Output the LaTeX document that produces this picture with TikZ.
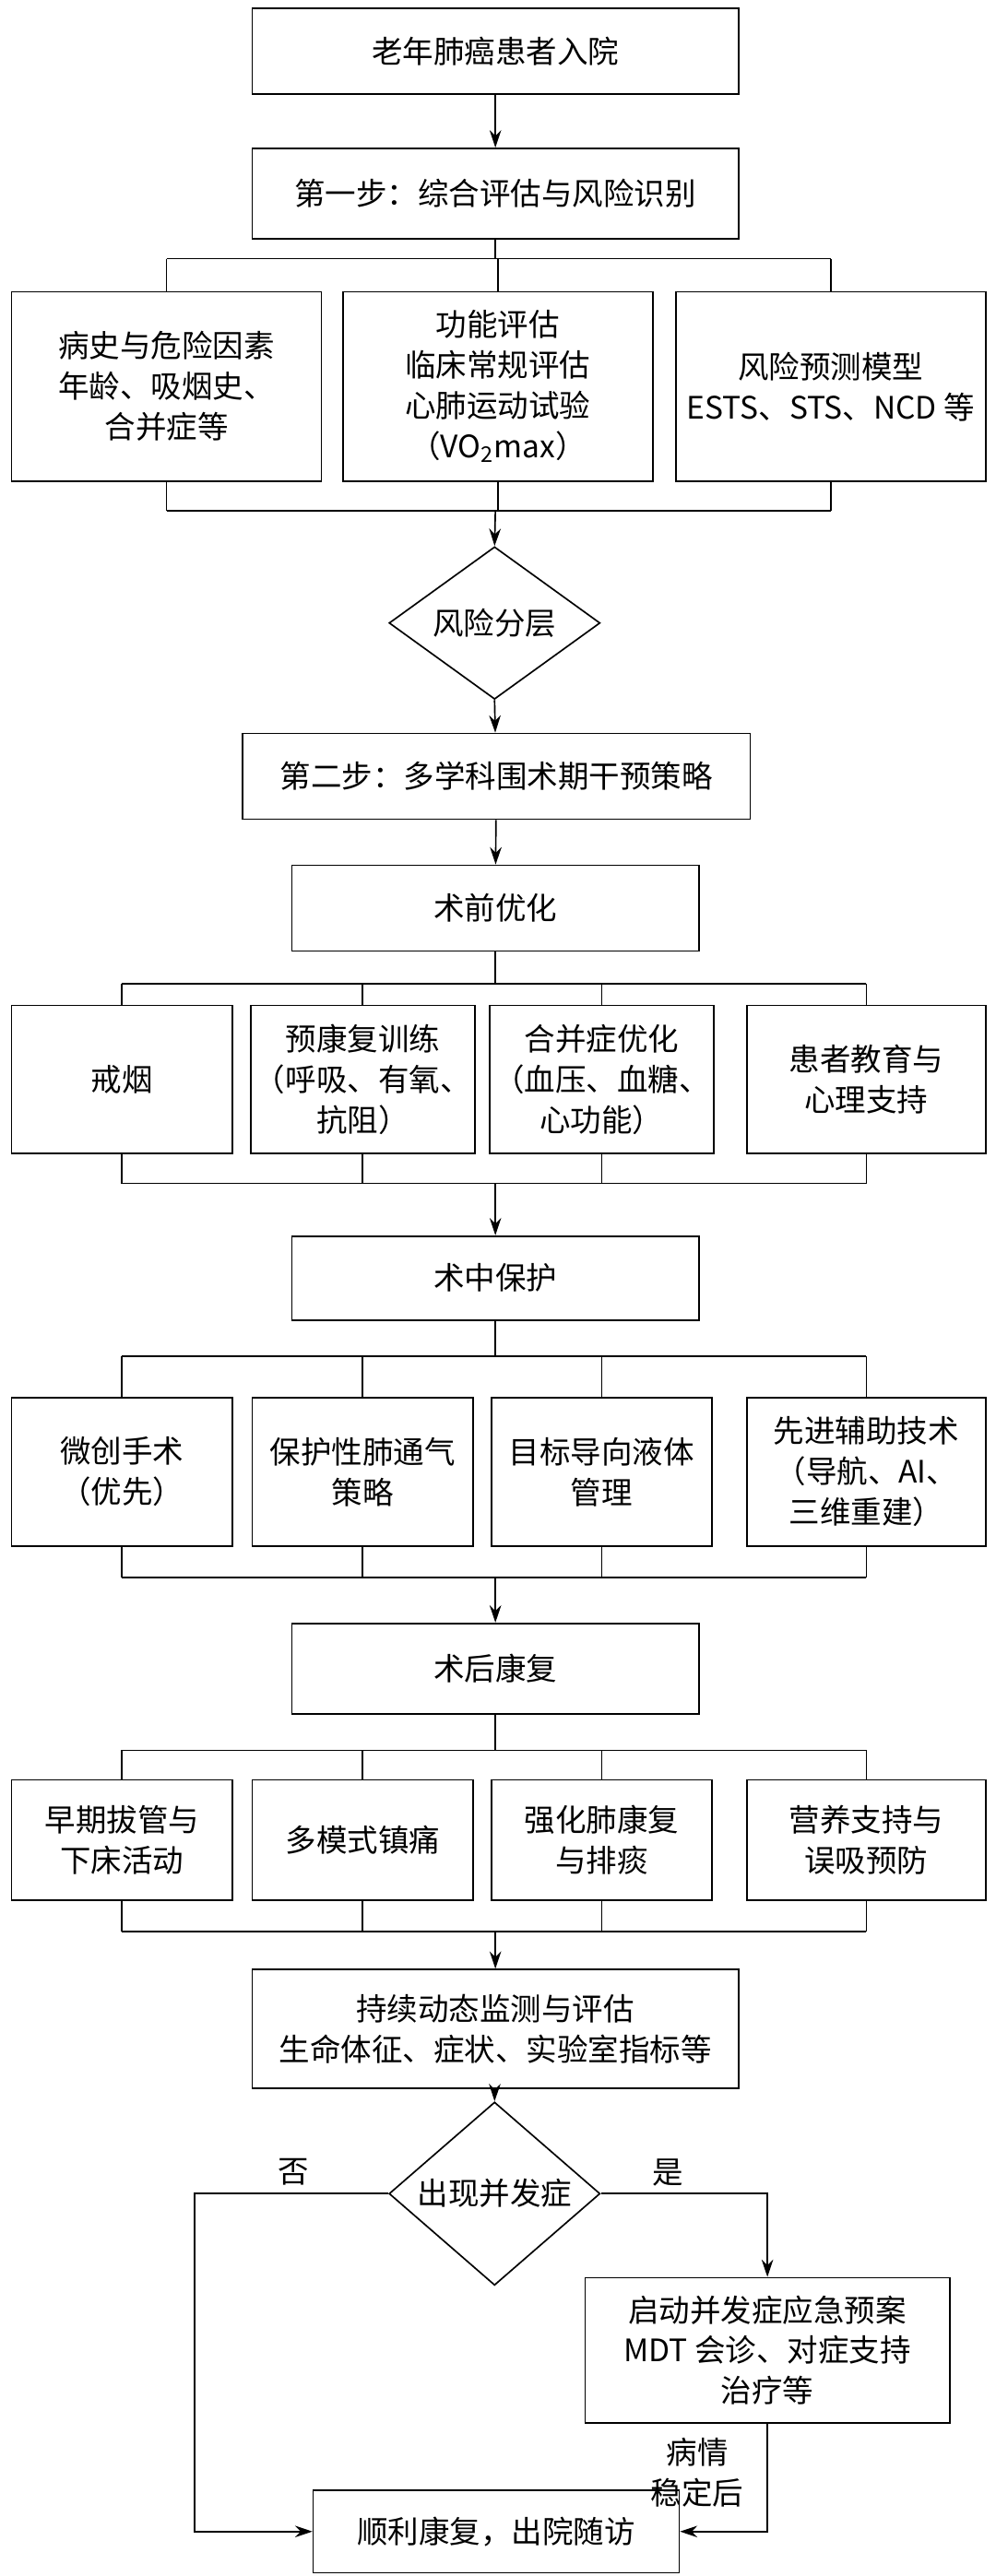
\documentclass[tikz,border=0pt]{standalone}
\usepackage{fontspec}
\setmainfont{Noto Sans CJK SC}
\usetikzlibrary{calc,arrows.meta,shapes.geometric}
\def\pu{0.03cm}
\begin{document}
\begin{tikzpicture}[x=0.03cm,y=-0.03cm,
    font=\fontsize{16}{21}\selectfont,
    line width=0.8pt,
    box/.style={draw,align=center,inner sep=2pt},
    judge/.style={draw,diamond,inner sep=0pt,minimum width=128*\pu,minimum height=68*\pu},
    arr/.style={-{Stealth[length=9pt,width=6pt]}}]
    \useasboundingbox (0,0) rectangle (604,1563);

    % 入院・第一步
    \node[box,minimum width=295*\pu,minimum height=52*\pu] (start) at (300.5,31) {老年肺癌患者入院};
    \node[box,minimum width=295*\pu,minimum height=55*\pu] (step1) at (300.5,117.5) {第一步：综合评估与风险识别};
    \draw[arr] (start) -- (step1);

    % 评估 3 项
    \node[box,minimum width=188*\pu,minimum height=115*\pu] (hist) at (101,234.5) {病史与危险因素\\年龄、吸烟史、\\合并症等};
    \node[box,minimum width=188*\pu,minimum height=115*\pu] (func) at (302,234.5) {功能评估\\临床常规评估\\心肺运动试验\\（VO\textsubscript{2}max）};
    \node[box,minimum width=188*\pu,minimum height=115*\pu] (model) at (504,234.5) {风险预测模型\\ESTS、STS、NCD 等};
    \coordinate (s1) at (300.5,157);
    \coordinate (s2) at (300.5,310);
    \draw (step1) -- (s1);
    \draw (hist.north |- s1) -- (model.north |- s1);
    \foreach \n in {hist,func,model} {
        \draw (\n.north |- s1) -- (\n.north);
        \draw (\n.south) -- (\n.south |- s2);
    }
    \draw (hist.south |- s2) -- (model.south |- s2);

    % 风险分层
    \node[judge] (risk) at (300,378) {风险分层};
    \draw[arr] (s2) -- (risk.north);
    \node[box,minimum width=308*\pu,minimum height=52*\pu] (step2) at (301,471) {第二步：多学科围术期干预策略};
    \draw[arr] (risk.south) -- (step2);

    % 术前优化
    \node[box,minimum width=247*\pu,minimum height=52*\pu] (pre) at (300.5,551) {术前优化};
    \draw[arr] (step2) -- (pre);
    \node[box,minimum width=134*\pu,minimum height=90*\pu] (pa) at (74,655) {戒烟};
    \node[box,minimum width=134*\pu,minimum height=90*\pu] (pb) at (220,655) {预康复训练\\（呼吸、有氧、\\抗阻）};
    \node[box,minimum width=134*\pu,minimum height=90*\pu] (pc) at (365,655) {合并症优化\\（血压、血糖、\\心功能）};
    \node[box,minimum width=145*\pu,minimum height=90*\pu] (pd) at (525.5,655) {患者教育与\\心理支持};
    \coordinate (p1) at (300.5,597);
    \coordinate (p2) at (300.5,718);
    \draw (pre) -- (p1);
    \draw (pa.north |- p1) -- (pd.north |- p1);
    \draw (pa.south |- p2) -- (pd.south |- p2);
    \foreach \n in {pa,pb,pc,pd} {
        \draw (\n.north |- p1) -- (\n.north);
        \draw (\n.south) -- (\n.south |- p2);
    }

    % 术中保护
    \node[box,minimum width=247*\pu,minimum height=51*\pu] (intra) at (300.5,775.5) {术中保护};
    \draw[arr] (p2) -- (intra);
    \node[box,minimum width=134*\pu,minimum height=90*\pu] (ia) at (74,893) {微创手术\\（优先）};
    \node[box,minimum width=134*\pu,minimum height=90*\pu] (ib) at (220,893) {保护性肺通气\\策略};
    \node[box,minimum width=134*\pu,minimum height=90*\pu] (ic) at (365,893) {目标导向液体\\管理};
    \node[box,minimum width=145*\pu,minimum height=90*\pu] (id) at (525.5,893) {先进辅助技术\\（导航、AI、\\三维重建）};
    \coordinate (i1) at (300.5,823);
    \coordinate (i2) at (300.5,957);
    \draw (intra) -- (i1);
    \draw (ia.north |- i1) -- (id.north |- i1);
    \draw (ia.south |- i2) -- (id.south |- i2);
    \foreach \n in {ia,ib,ic,id} {
        \draw (\n.north |- i1) -- (\n.north);
        \draw (\n.south) -- (\n.south |- i2);
    }

    % 术后康复
    \node[box,minimum width=247*\pu,minimum height=55*\pu] (post) at (300.5,1012.5) {术后康复};
    \draw[arr] (i2) -- (post);
    \node[box,minimum width=134*\pu,minimum height=73*\pu] (ra) at (74,1116.5) {早期拔管与\\下床活动};
    \node[box,minimum width=134*\pu,minimum height=73*\pu] (rb) at (220,1116.5) {多模式镇痛};
    \node[box,minimum width=134*\pu,minimum height=73*\pu] (rc) at (365,1116.5) {强化肺康复\\与排痰};
    \node[box,minimum width=145*\pu,minimum height=73*\pu] (rd) at (525.5,1116.5) {营养支持与\\误吸预防};
    \coordinate (r1) at (300.5,1062);
    \coordinate (r2) at (300.5,1172);
    \draw (post) -- (r1);
    \draw (ra.north |- r1) -- (rd.north |- r1);
    \draw (ra.south |- r2) -- (rd.south |- r2);
    \foreach \n in {ra,rb,rc,rd} {
        \draw (\n.north |- r1) -- (\n.north);
        \draw (\n.south) -- (\n.south |- r2);
    }

    % 监测与判断
    \node[box,minimum width=295*\pu,minimum height=72*\pu] (watch) at (300.5,1231) {持续动态监测与评估\\生命体征、症状、实验室指标等};
    \draw[arr] (r2) -- (watch);
    \node[judge,minimum height=70*\pu] (comp) at (300,1331) {出现并发症};
    \draw[arr] (watch) -- (comp.north);
    \node[box,minimum width=221*\pu,minimum height=88*\pu] (plan) at (465.5,1426) {启动并发症应急预案\\MDT 会诊、对症支持\\治疗等};
    \node[box,minimum width=222*\pu,minimum height=50*\pu] (out) at (301,1536) {顺利康复，出院随访};
    \coordinate (nl) at (118,1331);
    \coordinate (yr) at (465.5,1331);
    \draw[arr] (comp.west) -- (nl) -- (nl |- out) -- (out.west);
    \draw[arr] (comp.east) -- (yr) -- (plan.north);
    \draw[arr] (plan.south) -- (plan.south |- out) -- (out.east);
    \node at (178,1318) {否};
    \node at (405,1318) {是};
    \node[align=center] at (423,1500) {病情\\稳定后};
\end{tikzpicture}
\end{document}
